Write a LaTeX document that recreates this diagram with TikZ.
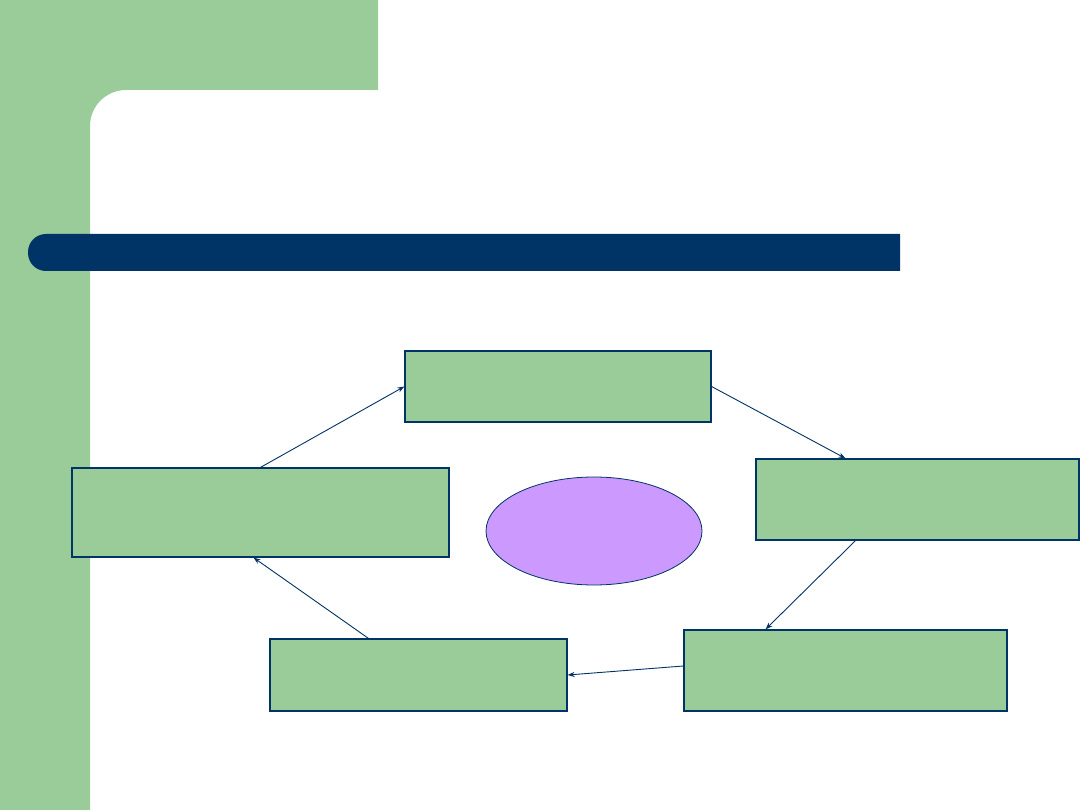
\documentclass[tikz,border=0pt]{standalone}
\usetikzlibrary{arrows.meta, shapes.geometric}
\definecolor{slidegreen}{HTML}{99CC99}
\definecolor{slidenavy}{HTML}{003366}
\definecolor{slidelilac}{HTML}{CC99FF}
\tikzset{
  cyarrow/.style={-{Stealth[length=7pt,width=5pt]}, draw=slidenavy, line width=0.9pt},
  cybox/.style={rectangle, draw=slidenavy, line width=1.2pt, fill=slidegreen, inner sep=0pt},
  cyhub/.style={ellipse, draw=slidenavy, line width=0.8pt, fill=slidelilac, minimum width=216pt, minimum height=108pt},
}
\begin{document}
\begin{tikzpicture}[x=1pt, y=-1pt]
  \useasboundingbox (0,0) rectangle (1080,810);
  \fill[white] (0,0) rectangle (1080,810);
  % Slide frame.
  \fill[slidegreen] (0,0) -- (378,0) -- (378,90) [rounded corners=36] -- (90,90) [sharp corners] -- (90,810) -- (0,810) -- cycle;
  \fill[slidenavy] (900,234) [rounded corners=18] -- (28,234) -- (28,271) [sharp corners] -- (900,271) -- cycle;

  % Cycle boxes.
  \node[cybox, minimum width=306pt, minimum height=71pt] (top) at (558,386.5) {};
  \node[cybox, minimum width=323pt, minimum height=81pt] (right) at (917.5,499.5) {};
  \node[cybox, minimum width=323pt, minimum height=81pt] (lowright) at (845.5,670.5) {};
  \node[cybox, minimum width=297pt, minimum height=72pt] (lowleft) at (418.5,675) {};
  \node[cybox, minimum width=377pt, minimum height=89pt] (left) at (260.5,512.5) {};
  \node[cyhub] (hub) at (594,531) {};

  % Edges.
  \draw[cyarrow] (left.north) -- (top.west);
  \draw[cyarrow] (top.east) -- ([xshift=-72pt]right.north);
  \draw[cyarrow] ([xshift=-62pt]right.south) -- ([xshift=-80pt]lowright.north);
  \draw[cyarrow] ([yshift=4.5pt]lowright.west) -- (lowleft.east);
  \draw[cyarrow] ([xshift=-50pt]lowleft.north) -- ([xshift=-7pt]left.south);
\end{tikzpicture}
\end{document}
